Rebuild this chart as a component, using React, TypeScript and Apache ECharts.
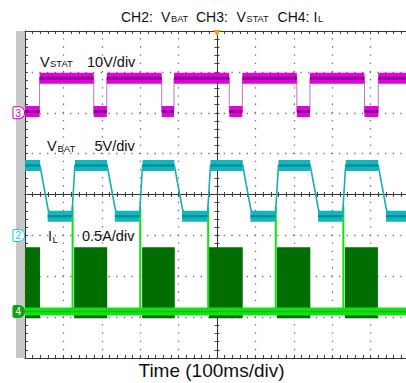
import React, { useEffect, useRef } from 'react';
import * as echarts from 'echarts';

const FONT = '"Liberation Sans", Arial, Helvetica, sans-serif';

// Time axis in ms (100 ms/div), screen spans -500 .. +500 ms
const X_MIN = -500;
const X_MAX = 500;

// CH3: V_STAT (10 V/div)
const vstatRise = [-462, -287, -112, 66, 242, 420];
const vstatFall = [-321, -144, 32, 208, 384];
const vstatHigh = 8.45;
const vstatLow = 0.3;

// CH2: V_BAT (5 V/div)
const vbatFall = [-461, -286, -111, 67, 243, 420];
const vbatRise = [-378, -202, -25, 152, 327];
const vbatFallMs = [0, 8, 14, 21, 26, 34];
const vbatFallV = [8.55, 6.5, 5.0, 3.2, 2.7, 2.45];
const vbatRiseMs = 8;
const vbatLowBandDelay = 20;
const vbatHigh = 8.55;
const vbatLow = 2.35;

// CH4: I_L (0.5 A/div)
const ilOnStart = [-500, -372, -195, -21, 156, 333];
const ilOnEnd = [-461, -286, -110, 67, 243, 419];
const ilRipplePeak = 0.785;
const ilRippleFloor = -0.085;
const ilSpikeAt = [-376, -200, -23, 153, 329];
const ilSpikePeak = 1.28;
const ilBase = 0;

type P = [number, number | null];

function buildVstat() {
  const ev = [
    ...vstatRise.map((t) => ({ t, up: true })),
    ...vstatFall.map((t) => ({ t, up: false })),
  ].sort((a, b) => a.t - b.t);
  let lv = ev[0].up ? vstatLow : vstatHigh;
  let start = X_MIN;
  const trace: P[] = [[X_MIN, lv]];
  const band: P[] = [];
  for (const e of ev) {
    trace.push([e.t, lv]);
    band.push([start, lv], [e.t, lv], [e.t, null]);
    lv = e.up ? vstatHigh : vstatLow;
    start = e.t;
    trace.push([e.t, lv]);
  }
  trace.push([X_MAX, lv]);
  band.push([start, lv], [X_MAX, lv]);
  return { trace, band };
}

function buildVbat() {
  const trace: P[] = [[X_MIN, vbatHigh]];
  const band: P[] = [];
  let hiStart = X_MIN;
  vbatFall.forEach((f, i) => {
    band.push([hiStart, vbatHigh], [f, vbatHigh], [f, null]);
    vbatFallMs.forEach((d, k) => trace.push([f + d, vbatFallV[k]]));
    const lowStart = f + vbatLowBandDelay;
    const r = vbatRise[i];
    if (r !== undefined) {
      trace.push([r, vbatLow], [r + vbatRiseMs, vbatHigh]);
      band.push([lowStart, vbatLow], [r, vbatLow], [r, null]);
      hiStart = r + vbatRiseMs;
    } else {
      trace.push([X_MAX, vbatLow]);
      band.push([lowStart, vbatLow], [X_MAX, vbatLow]);
    }
  });
  return { trace, band };
}

function buildSpikes() {
  const d: P[] = [];
  ilSpikeAt.forEach((t) => d.push([t, ilBase], [t, ilSpikePeak], [t, null]));
  return d;
}

const txt = (text: string, x: number, y: number, size: number, color = '#111') => ({
  type: 'text',
  x,
  y,
  silent: true,
  z: 10,
  style: {
    text,
    fill: color,
    font: `${size}px ${FONT}`,
    align: 'left',
    verticalAlign: 'middle',
    textAlign: 'left',
    textVerticalAlign: 'middle',
  },
});

function marker(label: string, color: string, filled: boolean) {
  return {
    show: true,
    margin: 1,
    formatter: (v: number) => (Math.abs(v) < 1e-6 ? `{m|${label}}` : ''),
    rich: {
      m: {
        color: filled ? '#fff' : color,
        backgroundColor: filled ? color : '#fff',
        borderColor: color,
        borderWidth: 1,
        borderRadius: [1, 5, 5, 1],
        padding: [1, 3, 0, 2],
        fontSize: 10,
        lineHeight: 10,
        fontFamily: FONT,
      },
    },
  };
}

function buildOption() {
  const vstat = buildVstat();
  const vbat = buildVbat();
  const frameLine = { color: '#333', width: 1 };
  const tickStyle = { color: '#444', width: 1 };
  const hidden = { show: false };

  const frameX = (pos: string, withSplit: boolean) => ({
    type: 'value',
    min: X_MIN,
    max: X_MAX,
    interval: 100,
    position: pos,
    axisLine: { show: true, onZero: false, lineStyle: frameLine },
    axisTick: { show: true, inside: true, length: 3, lineStyle: tickStyle },
    minorTick: { show: true, splitNumber: 5, length: 3, lineStyle: tickStyle },
    axisLabel: hidden,
    splitLine: withSplit
      ? { show: true, lineStyle: { color: '#707070', width: 1.3, type: [1.3, 6.875], dashOffset: 0.65 } }
      : hidden,
  });
  const centerX = (pos: string) => ({
    type: 'value',
    min: X_MIN,
    max: X_MAX,
    interval: 100,
    position: pos,
    axisLine: { show: true, onZero: true, onZeroAxisIndex: 0, lineStyle: frameLine },
    axisTick: { show: true, inside: false, length: 2.5, lineStyle: tickStyle },
    minorTick: { show: true, splitNumber: 5, length: 2.5, lineStyle: tickStyle },
    axisLabel: hidden,
    splitLine: hidden,
  });
  const centerY = (pos: string) => ({
    type: 'value',
    min: -4,
    max: 4,
    interval: 1,
    position: pos,
    axisLine: { show: true, onZero: true, onZeroAxisIndex: 0, lineStyle: frameLine },
    axisTick: { show: true, inside: false, length: 2.5, lineStyle: tickStyle },
    minorTick: { show: true, splitNumber: 5, length: 2.5, lineStyle: tickStyle },
    axisLabel: hidden,
    splitLine: hidden,
  });
  const chanY = (min: number, max: number, interval: number, label: any) => ({
    type: 'value',
    min,
    max,
    interval,
    position: 'left',
    axisLine: { show: false, onZero: false },
    axisTick: hidden,
    minorTick: hidden,
    splitLine: hidden,
    axisLabel: label,
  });

  const line = (data: P[], yAxisIndex: number, color: string, width: number, z: number, extra: any = {}) => ({
    type: 'line',
    xAxisIndex: 0,
    yAxisIndex,
    data,
    symbol: 'none',
    showSymbol: false,
    silent: true,
    connectNulls: false,
    z,
    emphasis: { disabled: true },
    lineStyle: { color, width, cap: 'butt', join: 'miter' },
    ...extra,
  });

  return {
    animation: false,
    backgroundColor: '#ffffff',
    grid: { left: 25, top: 31, width: 384, height: 327, containLabel: false, outerBoundsMode: 'none' },
    xAxis: [
      {
        ...frameX('bottom', true),
        name: 'Time (100ms/div)',
        nameLocation: 'middle',
        nameGap: 3,
        nameTextStyle: { fontSize: 19, fontFamily: FONT, color: '#111', padding: [0, 11, 0, 0] },
      },
      frameX('top', false),
      centerX('bottom'),
      centerX('top'),
    ],
    yAxis: [
      {
        type: 'value',
        min: -4,
        max: 4,
        interval: 1,
        position: 'left',
        axisLine: { show: true, onZero: false, lineStyle: frameLine },
        axisTick: { show: true, inside: true, length: 3, lineStyle: tickStyle },
        minorTick: { show: true, splitNumber: 5, length: 3, lineStyle: tickStyle },
        axisLabel: hidden,
        splitLine: { show: true, lineStyle: { color: '#707070', width: 1.3, type: [1.3, 6.38], dashOffset: 0.65 } },
      },
      centerY('left'),
      centerY('right'),
      chanY(-60, 20, 10, marker('3', '#cc00cc', false)),
      chanY(-15, 25, 5, marker('2', '#22c4d4', false)),
      chanY(-0.57, 3.43, 0.57, marker('4', '#14a014', true)),
    ],
    graphic: [
      { type: 'rect', z: -10, silent: true, shape: { x: 16, y: 31, width: 9, height: 327 }, style: { fill: '#c8c8c8' } },
      txt('CH2:', 121, 16.9, 14),
      txt('V', 161, 16.9, 14),
      txt('BAT', 171, 19.3, 9.2),
      txt('CH3:', 196, 16.9, 14),
      txt('V', 236.5, 16.9, 14),
      txt('STAT', 246.5, 19.3, 9.2),
      txt('CH4:', 277.6, 16.9, 14),
      txt('I', 313.5, 16.9, 14),
      txt('L', 318, 19.3, 9.2),
      txt('V', 40, 61.7, 14.5),
      txt('STAT', 50, 63.7, 9.5),
      txt('10V/div', 87, 61.7, 14.5),
      txt('V', 47, 145.7, 14.5),
      txt('BAT', 57.5, 148.2, 9.5),
      txt('5V/div', 94.5, 145.7, 14.5),
      txt('I', 48, 235.7, 14.5),
      txt('L', 52.5, 239, 9.5),
      txt('0.5A/div', 82, 235.7, 14.5),
    ],
    series: [
      // I_L switching blocks
      line([[X_MIN, ilBase], [X_MAX, ilBase]], 5, 'rgba(0,0,0,0)', 0, 1, {
        markArea: {
          silent: true,
          itemStyle: { color: '#006e00', opacity: 1 },
          label: { show: false },
          data: ilOnStart.map((s, i) => [{ coord: [s, ilRippleFloor] }, { coord: [ilOnEnd[i], ilRipplePeak] }]),
        },
      }),
      line([[X_MIN, ilBase], [X_MAX, ilBase]], 5, '#14e014', 8, 3),
      line([[X_MIN, ilBase], [X_MAX, ilBase]], 5, '#0cc40c', 1.5, 3),
      line(buildSpikes(), 5, '#14e014', 2, 4),
      // V_BAT
      line(vbat.trace, 4, '#1eaab4', 1.6, 5),
      line(vbat.band, 4, '#12b6be', 11, 5),
      line(vbat.band, 4, '#0b8d95', 2.5, 5),
      // V_STAT
      line(vstat.trace, 3, '#b878c0', 1, 6, {
        markPoint: {
          symbol: 'triangle',
          symbolSize: [7, 6],
          symbolRotate: 180,
          symbolOffset: [0, 2],
          silent: true,
          itemStyle: { color: '#f39a10' },
          label: { show: false },
          data: [{ coord: [0, 20] }],
        },
      }),
      line(vstat.band, 3, '#e000e0', 11, 6),
      line(vstat.band, 3, '#8c008c', 3, 6),
    ],
  };
}

export default function App() {
  const ref = useRef<HTMLDivElement>(null);
  useEffect(() => {
    if (!ref.current) return;
    const chart = echarts.init(ref.current, null, { renderer: 'svg' });
    chart.setOption(buildOption() as any);
    return () => chart.dispose();
  }, []);
  return (
    <div
      ref={ref}
      style={{ position: 'absolute', left: 0, top: 0, width: 406, height: 383, background: '#fff' }}
    />
  );
}
